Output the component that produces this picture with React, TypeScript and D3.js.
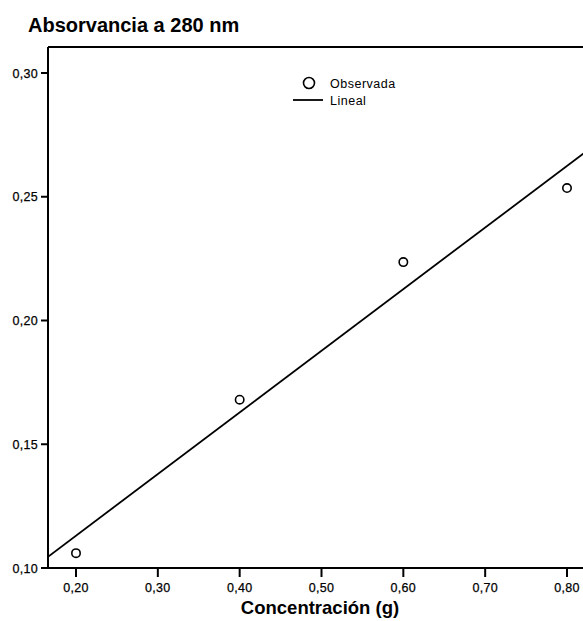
import React from "react";
import * as d3 from "d3";

const concentraciones = [0.2, 0.4, 0.6, 0.8];
const absorvancias = [0.106, 0.168, 0.2236, 0.2535];
const xTicks = [0.2, 0.3, 0.4, 0.5, 0.6, 0.7, 0.8];
const yTicks = [0.1, 0.15, 0.2, 0.25, 0.3];

const W = 583;
const H = 621;
const FONT = "Arial, 'Liberation Sans', sans-serif";

export default function App() {
  const left = 48, top = 47, bottom = 568, right = 600;
  const x = d3.scaleLinear().domain([0.2, 0.8]).range([76, 567]);
  const y = d3.scaleLinear().domain([0.1, 0.3]).range([568, 73]);
  const xMin = x.invert(left), xMax = x.invert(right);

  const mx = d3.mean(concentraciones)!;
  const my = d3.mean(absorvancias)!;
  let sxy = 0, sxx = 0;
  concentraciones.forEach((c, i) => {
    sxy += (c - mx) * (absorvancias[i] - my);
    sxx += (c - mx) * (c - mx);
  });
  const slope = sxy / sxx;
  const intercept = my - slope * mx;
  const line = d3.line<number>().x((d) => x(d)).y((d) => y(intercept + slope * d));
  const fmt = (v: number) => v.toFixed(2).replace(".", ",");

  return (
    <svg width={W} height={H} style={{ position: "absolute", left: 0, top: 0, background: "#fff" }}>
      <rect width={W} height={H} fill="#fff" />
      <text x={28} y={32} fontFamily={FONT} fontWeight="bold" fontSize={20}>Absorvancia a 280 nm</text>
      <defs>
        <clipPath id="plot">
          <rect x={left} y={top} width={right - left} height={bottom - top} />
        </clipPath>
      </defs>
      <path d={line([xMin, xMax]) || ""} stroke="#000" strokeWidth={1.8} fill="none" clipPath="url(#plot)" />
      {concentraciones.map((c, i) => (
        <circle key={i} cx={x(c)} cy={y(absorvancias[i])} r={4.2} fill="#fff" stroke="#000" strokeWidth={1.6} />
      ))}
      <path d={`M${left},${top}H${right}`} stroke="#000" strokeWidth={2} />
      <path d={`M${left},${top}V${bottom}`} stroke="#000" strokeWidth={2} />
      <path d={`M${left},${bottom}H${right}`} stroke="#000" strokeWidth={2} />
      {yTicks.map((t) => (
        <g key={t}>
          <line x1={41} x2={left} y1={y(t)} y2={y(t)} stroke="#000" strokeWidth={2} />
          <text x={38} y={y(t) + 4.5} textAnchor="end" fontFamily={FONT} fontSize={12.5} letterSpacing={0.3} stroke="#000" strokeWidth={0.25}>{fmt(t)}</text>
        </g>
      ))}
      {xTicks.map((t) => (
        <g key={t}>
          <line x1={x(t)} x2={x(t)} y1={bottom} y2={bottom + 9} stroke="#000" strokeWidth={2} />
          <text x={x(t)} y={592} textAnchor="middle" fontFamily={FONT} fontSize={12.5} letterSpacing={0.3} stroke="#000" strokeWidth={0.25}>{fmt(t)}</text>
        </g>
      ))}
      <text x={320} y={614} textAnchor="middle" fontFamily={FONT} fontWeight="bold" fontSize={18.5}>Concentración (g)</text>
      <circle cx={309} cy={83} r={5.5} fill="#fff" stroke="#000" strokeWidth={1.6} />
      <text x={330} y={88} fontFamily={FONT} fontSize={12.5} letterSpacing={0.5}>Observada</text>
      <line x1={293} x2={323} y1={100} y2={100} stroke="#000" strokeWidth={1.8} />
      <text x={330} y={105} fontFamily={FONT} fontSize={12.5} letterSpacing={0.5}>Lineal</text>
    </svg>
  );
}
